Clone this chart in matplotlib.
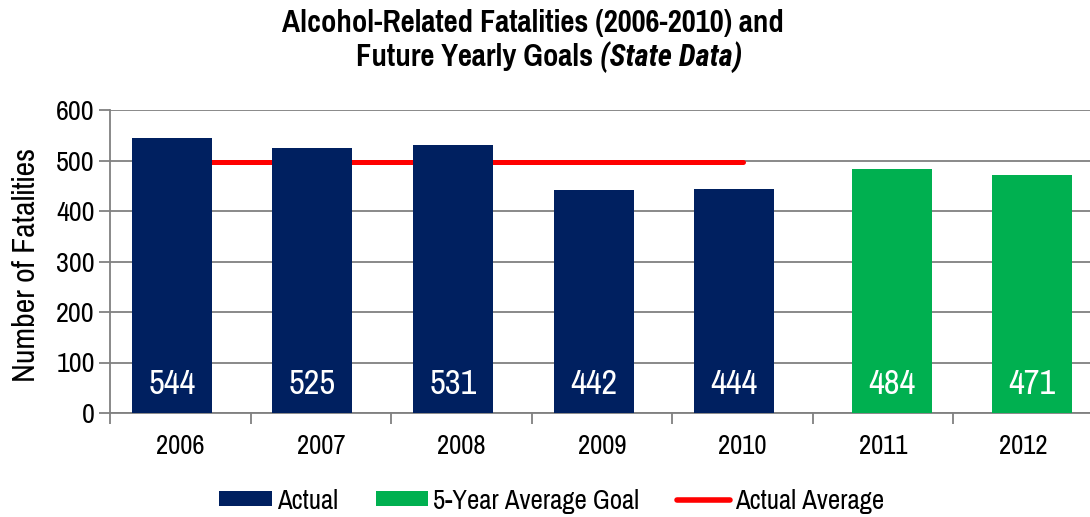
import matplotlib
matplotlib.use("Agg")
import matplotlib.pyplot as plt
from matplotlib.lines import Line2D
from matplotlib.patches import Patch
import numpy as np

FONT = ['Pragati Narrow', 'Liberation Sans', 'DejaVu Sans']
ITALIC_FONT = ['Roboto Condensed', 'Liberation Sans', 'DejaVu Sans']
plt.rcParams['font.family'] = FONT

years = ["2006", "2007", "2008", "2009", "2010", "2011", "2012"]
actual = [544, 525, 531, 442, 444]
goals = [484, 471]
avg_value = sum(actual) / len(actual)

navy = "#002060"
green = "#00B050"
red = "#FF0000"
grid = "#808080"

fig = plt.figure(figsize=(10.9, 5.17), dpi=100)
ax = fig.add_axes([110/1090, 104/517, (1094-110)/1090, (413-110)/517])

x = np.arange(len(years))
xa = x[:len(actual)]
xg = x[len(actual):]
bw = 0.57
off = 0.06
ax.plot(xa, [avg_value]*len(actual), color=red, lw=3.6,
        solid_capstyle='round', zorder=2)
ax.bar(xa - off, actual, width=bw, color=navy, zorder=3)
ax.bar(xg + off, goals, width=bw, color=green, zorder=3)

for xi, v in zip(list(xa - off) + list(xg + off), actual + goals):
    ax.text(xi, 58, str(v), color="white", ha="center", va="center",
            fontsize=27, zorder=4)

ax.set_xlim(-0.5, len(years) - 0.5)
ax.set_ylim(0, 600)
ax.set_yticks(range(0, 601, 100))
ax.yaxis.grid(True, color=grid, lw=1.3, zorder=0)
ax.set_axisbelow(True)
ax.set_xticks(x)
ax.set_xticklabels(years, fontsize=21)
ax.set_xticks(np.arange(-0.5, len(years), 1), minor=True)
ax.tick_params(axis='x', which='major', length=0, pad=15)
ax.tick_params(axis='x', which='minor', length=8, width=1.3, color=grid, direction='out')
ax.tick_params(axis='y', length=8, width=1.3, color=grid, labelsize=22, pad=3)
for s in ['top', 'right']:
    ax.spines[s].set_visible(False)
for s in ['left', 'bottom']:
    ax.spines[s].set_color(grid)
    ax.spines[s].set_linewidth(1.3)
fig.text(26/1090, 0.487, "Number of Fatalities", rotation=90, ha="center", va="center",
         fontsize=25)

fig.text(0.489, 0.955, "Alcohol-Related Fatalities (2006-2010) and", ha="center", va="center",
         fontsize=24, fontweight="bold")
t1 = fig.text(0, 0.890, "Future Yearly Goals ", ha="left", va="center",
              fontsize=24, fontweight="bold")
t2 = fig.text(0, 0.890, "(State Data)", ha="left", va="center",
              fontsize=22, fontweight="bold", style="italic", family=ITALIC_FONT)
fig.canvas.draw()
r = fig.canvas.get_renderer()
w1 = t1.get_window_extent(r).width / fig.bbox.width
w2 = t2.get_window_extent(r).width / fig.bbox.width
start = 0.504 - (w1 + w2) / 2
t1.set_x(start)
t2.set_x(start + w1)

handles = [Patch(facecolor=navy), Patch(facecolor=green),
           Line2D([0], [0], color=red, lw=4, solid_capstyle='round')]
labels = ["Actual", "5-Year Average Goal", "Actual Average"]
fig.legend(handles, labels, loc="center", bbox_to_anchor=(0.506, 0.030), ncol=3,
           frameon=False, fontsize=21, handlelength=1.8, handleheight=0.43,
           handletextpad=0.17, columnspacing=1.3)

fig.savefig("out.png", dpi=100)
